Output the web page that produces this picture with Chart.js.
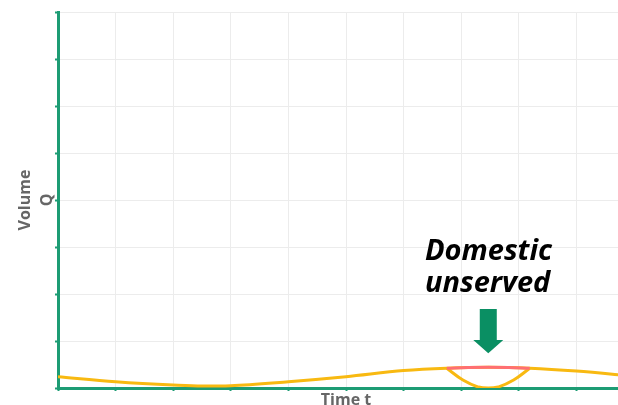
<!DOCTYPE html>
<html lang="en">
<head>
  <meta charset="UTF-8">
  <title>Domestic unserved</title>
  <script src="https://cdn.jsdelivr.net/npm/chart.js"></script>
  <style>
    html, body {
      margin: 0;
      padding: 0;
      overflow: hidden;
      background: #fff;
    }
    #wrap {
      width: 618px;
      height: 405px;
      overflow: hidden;
    }
  </style>
</head>
<body>
  <div id="wrap">
    <canvas id="volChart" width="636" height="405"></canvas>
  </div>

  <script>
    // yellow curve (volume over time)
    const flowT = [0, 1, 2, 2.5, 3, 4, 5, 6, 6.75, 7.47, 8.19, 9, 10];
    const flowQ = [0.24, 0.134, 0.064, 0.043, 0.05, 0.134, 0.24, 0.37, 0.42, 0.44, 0.42, 0.36, 0.25];

    // the dip below the curve
    const dipT = [6.75, 7.03, 7.3, 7.47, 7.64, 7.91, 8.19];
    const dipQ = [0.42, 0.17, 0.02, 0.0, 0.02, 0.17, 0.42];

    // red top over the dip
    const topT = [6.75, 7.11, 7.47, 7.83, 8.19];
    const topQ = [0.42, 0.435, 0.44, 0.435, 0.42];

    // annotation
    const labelLines = ['Domestic', 'unserved'];
    const labelT = 6.37;
    const labelQ = [2.72, 2.04];
    const arrowT = 7.47;
    const arrowTopQ = 1.68;
    const arrowNeckQ = 1.02;
    const arrowTipQ = 0.74;

    const green = '#1d9c74';
    const pts = (xs, ys) => xs.map((x, i) => ({ x: x, y: ys[i] }));

    const annotate = {
      id: 'annotate',
      afterDatasetsDraw(chart) {
        const { ctx, scales: { x, y } } = chart;
        ctx.save();
        // arrow
        const cx = x.getPixelForValue(arrowT);
        const yTop = y.getPixelForValue(arrowTopQ);
        const yNeck = y.getPixelForValue(arrowNeckQ);
        const yTip = y.getPixelForValue(arrowTipQ);
        ctx.fillStyle = '#0a8f63';
        ctx.beginPath();
        ctx.moveTo(cx - 8.5, yTop);
        ctx.lineTo(cx + 8.5, yTop);
        ctx.lineTo(cx + 8.5, yNeck);
        ctx.lineTo(cx + 15, yNeck);
        ctx.lineTo(cx, yTip);
        ctx.lineTo(cx - 15, yNeck);
        ctx.lineTo(cx - 8.5, yNeck);
        ctx.closePath();
        ctx.fill();
        // label
        ctx.fillStyle = '#000';
        ctx.font = 'italic bold 29px "Open Sans"';
        ctx.textAlign = 'left';
        ctx.textBaseline = 'alphabetic';
        labelLines.forEach((t, i) => {
          ctx.fillText(t, x.getPixelForValue(labelT), y.getPixelForValue(labelQ[i]));
        });
        ctx.restore();
      }
    };

    const ctx = document.getElementById('volChart').getContext('2d');
    new Chart(ctx, {
      type: 'line',
      data: {
        datasets: [
          {
            data: pts(topT, topQ),
            borderColor: '#ff6f73',
            borderWidth: 3,
            pointRadius: 0,
            tension: 0.4
          },
          {
            data: pts(dipT, dipQ),
            borderColor: '#f8b911',
            borderWidth: 3,
            pointRadius: 0,
            tension: 0.4
          },
          {
            data: pts(flowT, flowQ),
            borderColor: '#f8b911',
            borderWidth: 3,
            pointRadius: 0,
            cubicInterpolationMode: 'monotone'
          }
        ]
      },
      options: {
        responsive: false,
        animation: false,
        layout: { padding: { top: 12, right: 2, left: 0, bottom: 0 } },
        plugins: {
          legend: { display: false },
          tooltip: { enabled: false }
        },
        scales: {
          x: {
            type: 'linear',
            min: 0,
            max: 10,
            afterFit: s => { s.height = 17; },
            ticks: { display: false, stepSize: 1 },
            grid: { color: '#ececec', tickColor: green, tickLength: 3, tickWidth: 2 },
            border: { color: green, width: 3 },
            title: {
              display: true,
              text: 'Time t',
              color: '#666',
              font: { family: 'Open Sans', size: 16, weight: 'bold', lineHeight: 1 },
              padding: { top: 0, bottom: -3 }
            }
          },
          y: {
            min: 0,
            max: 8,
            afterFit: s => { s.width = 58; },
            ticks: { display: false, stepSize: 1 },
            grid: { color: '#ececec', tickColor: green, tickLength: 3, tickWidth: 2 },
            border: { color: green, width: 3 },
            title: {
              display: true,
              text: ['Volume', 'Q'],
              color: '#666',
              font: { family: 'Open Sans', size: 16, weight: 'bold', lineHeight: 1.375 },
              padding: { top: 14, bottom: 0 }
            }
          }
        }
      },
      plugins: [annotate]
    });
  </script>
</body>
</html>
